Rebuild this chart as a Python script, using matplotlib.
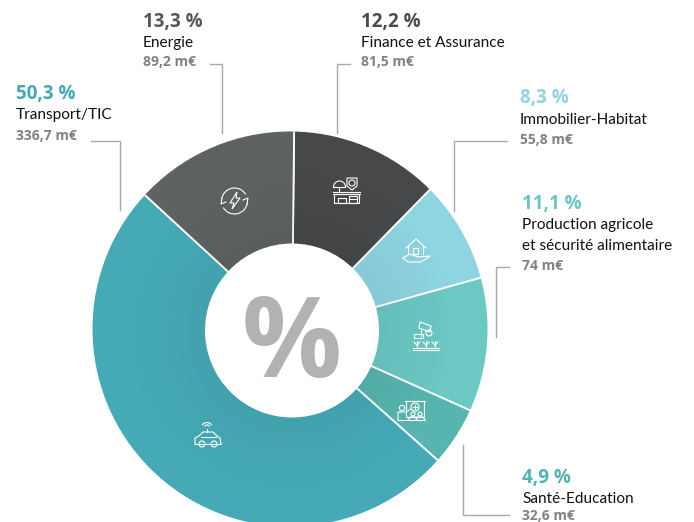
import matplotlib
matplotlib.use('Agg')
import matplotlib.pyplot as plt
import numpy as np
from matplotlib.patches import Circle, Rectangle, Arc, Polygon

# clockwise from 12 o'clock
sectors = ['Finance et Assurance', 'Immobilier-Habitat',
           'Production agricole\net sécurité alimentaire', 'Santé-Education',
           'Transport/TIC', 'Energie']
amounts = [81.5, 55.8, 74, 32.6, 336.7, 89.2]
pct_labels = ['12,2 %', '8,3 %', '11,1 %', '4,9 %', '50,3 %', '13,3 %']
amount_labels = ['81,5 m€', '55,8 m€', '74 m€', '32,6 m€', '336,7 m€', '89,2 m€']
colors = ['#47484a', '#8fd4e1', '#6bc8c3', '#57b5af', '#45aab6', '#5e6263']
pct_colors = ['#4b4c4e', '#8fd4e1', '#69c7c2', '#55b3ad', '#43a9b5', '#55585a']

W, H = 694, 522


def Y(py):
    return H - py


fig = plt.figure(figsize=(W / 100, H / 100), dpi=100)
ax = fig.add_axes([0, 0, 1, 1])

# slice borders meet at the hole centre, the outer edge is a slightly offset circle
outer = Circle((290, Y(329)), 197.5, transform=ax.transData)
wedges, _ = ax.pie(amounts, colors=colors, startangle=89.4, counterclock=False,
                   center=(292, Y(330.5)), radius=215,
                   wedgeprops={'edgecolor': 'white', 'linewidth': 1.3})
for w in wedges:
    w.set_clip_on(True)
    w.set_clip_path(outer)

# soft dark shade towards the hole
xx, yy = np.meshgrid(np.arange(W) + 0.5, np.arange(H) + 0.5)
dist = np.hypot(xx - 292, yy - 330.5)
shade = np.zeros((H, W, 4))
shade[..., 3] = 0.05 * np.clip(1 - (dist - 87) / 80, 0, 1)
img = ax.imshow(shade, extent=(0, W, 0, H), origin='upper', zorder=2, aspect='equal')
img.set_clip_path(outer)

ax.set_xlim(0, W)
ax.set_ylim(0, H)
ax.set_aspect('equal')
ax.axis('off')
ax.add_patch(Circle((292, Y(330.5)), 87, fc='white', ec='none', zorder=3))
ax.text(292, Y(377), '%', fontsize=80, fontweight='bold', color='#b1b2b4', ha='center',
        va='baseline', family='Open Sans', zorder=4)

# label anchors: x, then baselines of percent, name line(s), amount
label_pos = [
    (361.5, 27, [47], 66.5),
    (520, 102.5, [124], 144),
    (522, 209, [229, 250.5], 270),
    (522, 482.5, [503], 520),
    (16, 99, [119], 140),
    (143, 27, [47], 66.5),
]
for i, (x, y_pct, y_names, y_amt) in enumerate(label_pos):
    ax.text(x, Y(y_pct), pct_labels[i], fontsize=13.5, fontweight='bold', color=pct_colors[i],
            family='Open Sans', va='baseline')
    for y, line_txt in zip(y_names, sectors[i].split('\n')):
        ax.text(x, Y(y), line_txt, fontsize=11.1, color='#111111', family='Lato', va='baseline')
    ax.text(x, Y(y_amt), amount_labels[i], fontsize=10, fontweight='bold', color='#808284',
            family='Open Sans', va='baseline')

# leader lines
leaders = [
    [(91, 140.5), (120.5, 140.5), (120.5, 210)],
    [(210, 64), (222.5, 64), (222.5, 133)],
    [(350, 64), (337.5, 64), (337.5, 133)],
    [(506.7, 141), (454.5, 141), (454.5, 211)],
    [(509, 267), (496.5, 267), (496.5, 336.5)],
    [(462.7, 445), (462.7, 514.5), (509, 514.5)],
]
for pts in leaders:
    ax.plot([p[0] for p in pts], [Y(p[1]) for p in pts], color='#a7a9ac', lw=1, zorder=2,
            solid_joinstyle='miter')

ic = dict(fc='none', ec='white', lw=0.8, zorder=5)


def line(*pts):
    ax.plot([p[0] for p in pts], [Y(p[1]) for p in pts], color='white', lw=0.8, zorder=5)


def box(x0, y0, x1, y1):
    ax.add_patch(Rectangle((x0, Y(y1)), x1 - x0, y1 - y0, **ic))


def circ(x, y, r):
    ax.add_patch(Circle((x, Y(y)), r, **ic))


# energy icon
ax.add_patch(Arc((234.5, Y(201)), 26, 26, theta1=30, theta2=170, **ic))
ax.add_patch(Arc((234.5, Y(201)), 26, 26, theta1=210, theta2=350, **ic))
line((222, 198), (221, 204), (226, 202))
line((247, 204), (248, 198), (243, 200))
ax.add_patch(Polygon([(237, Y(192)), (230, Y(203)), (234, Y(203)), (232, Y(209)),
                      (240, Y(198)), (236, Y(198))], closed=True, **ic))

# finance icon
box(334, 194, 359, 203)
box(338, 198, 346, 203)
box(349, 196, 357, 203)
line((349, 199), (357, 199))
line((333, 192), (360, 192))
line((333, 194), (360, 194))
ax.add_patch(Arc((339.5, Y(187)), 12, 12, theta1=0, theta2=180, **ic))
line((333.5, 187), (345.5, 187))
line((339.5, 187), (339.5, 192))
ax.add_patch(Polygon([(347, Y(178)), (357, Y(178)), (357, Y(186)), (352, Y(190)), (347, Y(186))],
                     closed=True, **ic))
circ(352, 183, 3)

# home icon
line((406, 248), (416, 239), (426, 248))
line((408, 246), (408, 254))
line((423, 246), (423, 254))
box(413, 248, 418, 254)
line((403, 258), (410, 254), (418, 257), (430, 256), (421, 262), (408, 262), (403, 258))

# agriculture icon
ax.add_patch(Polygon([(420, Y(322)), (431, Y(326)), (430, Y(332)), (419, Y(328))], closed=True, **ic))
circ(429, 333, 3)
line((421, 330), (421, 336))
box(414, 334, 423, 338)
line((413, 348), (439, 348))
line((413, 350), (439, 350))
for x in (417, 426, 435):
    line((x, 341), (x, 348))
    line((x - 3, 342), (x, 345), (x + 3, 342))

# health / education icon
box(406, 401, 424, 417)
line((405, 401), (425, 401))
circ(415, 407, 4)
line((413, 407), (417, 407))
line((415, 405), (415, 409))
circ(402, 408, 2.7)
line((398, 420), (398, 412), (406, 412), (411, 409))
circ(413, 414, 2)
circ(420, 414, 2)
line((408, 420), (410, 417), (416, 417), (417, 420))
line((416, 420), (417, 417), (423, 417), (425, 420))
line((398, 420), (425, 420))

# car icon
line((195, 444), (195, 438), (199, 436), (203, 432), (213, 432), (217, 436), (220, 438), (221, 444))
line((195, 444), (221, 444))
line((201, 437), (216, 437))
circ(202, 444, 3)
circ(214, 444, 3)
line((207, 432), (207, 429))
ax.add_patch(Arc((207, Y(428)), 6, 6, theta1=30, theta2=150, **ic))
ax.add_patch(Arc((207, Y(428)), 11, 11, theta1=30, theta2=150, **ic))

fig.savefig('out.png', dpi=100)
